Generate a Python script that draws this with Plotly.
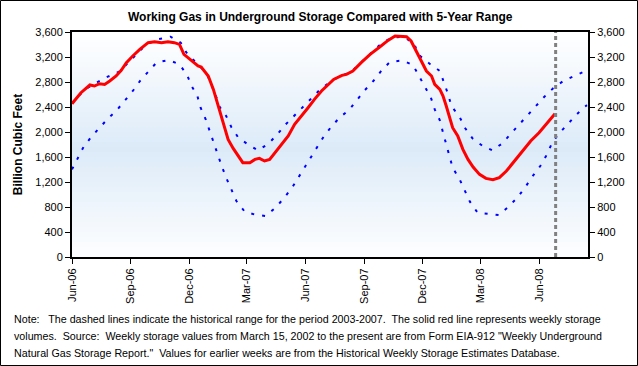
import plotly.graph_objects as go

# ---------------- data ----------------
title_text = "Working Gas in Underground Storage Compared with 5-Year Range"
y_title = "Billion Cubic Feet"
note_lines = [
    "Note:   The dashed lines indicate the historical range for the period 2003-2007.  The solid red line represents weekly storage",
    "volumes.  Source:  Weekly storage values from March 15, 2002 to the present are from Form EIA-912 \"Weekly Underground",
    "Natural Gas Storage Report.\"  Values for earlier weeks are from the Historical Weekly Storage Estimates Database.",
]

storage_dates = [
    "2006-06-01", "2006-06-15", "2006-06-29", "2006-07-06", "2006-07-14", "2006-07-22", "2006-07-30",
    "2006-08-09", "2006-08-17", "2006-08-25", "2006-09-04", "2006-09-15", "2006-09-28", "2006-10-08",
    "2006-10-19", "2006-10-29", "2006-11-08", "2006-11-16", "2006-11-23", "2006-12-04", "2006-12-10",
    "2006-12-15", "2006-12-20", "2006-12-31", "2007-01-08", "2007-01-15", "2007-01-23", "2007-01-31",
    "2007-02-08", "2007-02-16", "2007-02-23", "2007-03-06", "2007-03-14", "2007-03-21", "2007-03-29",
    "2007-04-06", "2007-04-14", "2007-04-24", "2007-05-05", "2007-05-15", "2007-05-26", "2007-06-05",
    "2007-06-15", "2007-06-26", "2007-07-15", "2007-07-28", "2007-08-04", "2007-08-14", "2007-08-27",
    "2007-09-10", "2007-09-25", "2007-10-08", "2007-10-19", "2007-11-06", "2007-11-13", "2007-11-21",
    "2007-11-29", "2007-12-07", "2007-12-15", "2007-12-20", "2007-12-28", "2008-01-02", "2008-01-07",
    "2008-01-12", "2008-01-17", "2008-01-25", "2008-02-02", "2008-02-10", "2008-02-18", "2008-02-28",
    "2008-03-09", "2008-03-20", "2008-03-30", "2008-04-10", "2008-04-23", "2008-05-05", "2008-05-18",
    "2008-05-31", "2008-06-13", "2008-06-25",
]
storage_values = [
    2453, 2629, 2752, 2736, 2773, 2762, 2816,
    2896, 2986, 3109, 3216, 3322, 3429, 3445,
    3429, 3445, 3429, 3402, 3242, 3146, 3093,
    3056, 3040, 2896, 2682, 2442, 2149, 1882,
    1738, 1616, 1509, 1509, 1562, 1578, 1536,
    1562, 1669, 1792, 1936, 2122, 2256, 2389,
    2522, 2656, 2842, 2906, 2922, 2976, 3109,
    3242, 3360, 3466, 3536, 3525, 3456, 3296,
    3162, 2976, 2896, 2762, 2682, 2576, 2416,
    2256, 2069, 1936, 1722, 1562, 1440, 1322,
    1258, 1237, 1269, 1376, 1536, 1696, 1856,
    1989, 2149, 2293,
]

max_dates = [
    "2006-06-01", "2006-06-21", "2006-07-09", "2006-07-27", "2006-08-14", "2006-08-30", "2006-09-12",
    "2006-09-25", "2006-10-13", "2006-11-02", "2006-11-18", "2006-11-27", "2006-12-12", "2006-12-28",
    "2007-01-11", "2007-01-18", "2007-01-28", "2007-02-05", "2007-02-16", "2007-03-03", "2007-03-19",
    "2007-04-04", "2007-04-18", "2007-04-30", "2007-05-14", "2007-05-28", "2007-06-10", "2007-06-24",
    "2007-07-15", "2007-07-28", "2007-08-14", "2007-08-30", "2007-09-12", "2007-09-26", "2007-10-13",
    "2007-11-01", "2007-11-18", "2007-11-24", "2007-12-12", "2007-12-28", "2008-01-10", "2008-01-15",
    "2008-01-28", "2008-02-05", "2008-02-17", "2008-03-04", "2008-03-19", "2008-04-03", "2008-04-16",
    "2008-04-29", "2008-05-13", "2008-05-25", "2008-06-08", "2008-06-22", "2008-07-08", "2008-07-25",
    "2008-08-12",
]
max_values = [
    2460, 2682, 2789, 2885, 2965, 3136, 3269,
    3402, 3482, 3525, 3429, 3269, 3109, 2949,
    2602, 2400, 2256, 2080, 1909, 1802, 1706,
    1813, 1962, 2112, 2256, 2400, 2549, 2682,
    2842, 2896, 2986, 3136, 3269, 3402, 3509,
    3525, 3413, 3242, 3093, 2976, 2602, 2416,
    2240, 2069, 1898, 1776, 1706, 1813, 1962,
    2112, 2272, 2416, 2560, 2698, 2816, 2896,
    2976,
]

min_dates = [
    "2006-06-01", "2006-06-10", "2006-06-19", "2006-07-01", "2006-07-14", "2006-07-27", "2006-08-09",
    "2006-08-22", "2006-09-04", "2006-09-16", "2006-09-29", "2006-10-11", "2006-10-30", "2006-11-16",
    "2006-11-28", "2006-12-05", "2006-12-14", "2006-12-19", "2006-12-27", "2007-01-02", "2007-01-08",
    "2007-01-14", "2007-01-21", "2007-01-28", "2007-02-05", "2007-02-13", "2007-02-26", "2007-03-13",
    "2007-03-30", "2007-04-14", "2007-04-28", "2007-05-11", "2007-05-31", "2007-06-10", "2007-06-20",
    "2007-06-30", "2007-07-11", "2007-07-24", "2007-08-08", "2007-08-20", "2007-09-02", "2007-09-15",
    "2007-09-28", "2007-10-11", "2007-10-30", "2007-11-16", "2007-11-25", "2007-12-04", "2007-12-14",
    "2007-12-20", "2007-12-28", "2008-01-02", "2008-01-07", "2008-01-12", "2008-01-17", "2008-01-28",
    "2008-02-05", "2008-02-13", "2008-02-25", "2008-03-12", "2008-03-29", "2008-04-13", "2008-04-27",
    "2008-05-09", "2008-05-20", "2008-06-02", "2008-06-11", "2008-06-19", "2008-06-28", "2008-07-12",
    "2008-07-25", "2008-08-07", "2008-08-14",
]
min_values = [
    1402, 1589, 1760, 1920, 2069, 2213, 2336,
    2496, 2656, 2826, 2976, 3109, 3152, 3082,
    2912, 2736, 2576, 2389, 2202, 2016, 1829,
    1642, 1456, 1269, 1072, 896, 725, 682,
    656, 778, 938, 1109, 1440, 1600, 1776,
    1936, 2080, 2229, 2352, 2506, 2672, 2816,
    2986, 3120, 3146, 3072, 2896, 2720, 2549,
    2362, 2186, 1989, 1792, 1616, 1429, 1242,
    1056, 885, 709, 693, 672, 800, 949,
    1109, 1280, 1456, 1616, 1792, 1936, 2096,
    2240, 2378, 2430,
]

latest_week = "2008-06-26"
x_range = ["2006-06-01", "2008-08-15 14:00"]
y_range = [0, 3600]
y_tick_step = 400
x_tick_start = "2006-06-01"

# ---------------- layout constants ----------------
W, H = 638, 366
ML, MR, MT, MB = 72, 50, 32, 109
PW, PH = W - ML - MR, H - MT - MB
FONT = "Liberation Sans, Arial, sans-serif"

fig = go.Figure()

blue_line = dict(color="#0000FF", width=2, dash="3px,8px")
fig.add_trace(go.Scatter(x=max_dates, y=max_values, mode="lines", line=blue_line,
                         hoverinfo="skip", showlegend=False))
fig.add_trace(go.Scatter(x=min_dates, y=min_values, mode="lines", line=blue_line,
                         hoverinfo="skip", showlegend=False))
fig.add_trace(go.Scatter(x=storage_dates, y=storage_values, mode="lines",
                         line=dict(color="#FF0000", width=3),
                         hoverinfo="skip", showlegend=False))
# invisible trace to carry right-hand axis
fig.add_trace(go.Scatter(x=storage_dates, y=storage_values, mode="lines", yaxis="y2",
                         line=dict(width=0, color="rgba(0,0,0,0)"),
                         hoverinfo="skip", showlegend=False))

# gradient background for plot area
shapes = []
N = 45
peak = (220, 234, 248)
for i in range(N):
    t = (i + 0.5) / N  # 0 top -> 1 bottom
    k = max(0.0, 1 - abs(t - 0.52) / 0.52)
    k = k ** 1.1
    col = tuple(int(round(255 - (255 - p) * k)) for p in peak)
    shapes.append(dict(type="rect", xref="x domain", yref="y domain",
                       x0=0, x1=1, y0=1 - (i + 1) / N, y1=1 - i / N,
                       fillcolor="rgb(%d,%d,%d)" % col, line=dict(width=0), layer="below"))

# vertical dashed marker for latest week
shapes.append(dict(type="line", xref="x", yref="y domain", x0=latest_week, x1=latest_week,
                   y0=0, y1=1, line=dict(color="#808080", width=3, dash="4px,3px")))
# outer border of the whole image
shapes.append(dict(type="rect", xref="paper", yref="paper",
                   x0=(-ML + 0.5) / PW, x1=1 + (MR - 0.5) / PW,
                   y0=(-MB + 0.5) / PH, y1=1 + (MT - 0.5) / PH,
                   line=dict(color="black", width=1), fillcolor="rgba(0,0,0,0)", layer="above"))

annotations = [dict(text="<b>%s</b>" % title_text, xref="paper", yref="paper",
                    x=(320 - ML) / PW, y=1 + (MT - 17) / PH, xanchor="center", yanchor="middle",
                    showarrow=False, font=dict(family=FONT, size=12, color="black"))]
note_y = [319, 336, 353]
for line, py in zip(note_lines, note_y):
    annotations.append(dict(text=line, xref="paper", yref="paper",
                            x=(12 - ML) / PW, y=(H - MB - py) / PH, xanchor="left", yanchor="middle",
                            showarrow=False, font=dict(family=FONT, size=10.7, color="black")))

axis_common = dict(showgrid=False, zeroline=False, showline=True, linecolor="black", linewidth=2,
                   ticks="outside", ticklen=5, tickwidth=1, tickcolor="black",
                   tickfont=dict(family=FONT, size=11, color="black"))

fig.update_layout(
    width=W, height=H,
    margin=dict(l=ML, r=MR, t=MT, b=MB, autoexpand=False),
    paper_bgcolor="white", plot_bgcolor="white",
    showlegend=False,
    hovermode=False,
    shapes=shapes,
    annotations=annotations,
    xaxis=dict(type="date", range=x_range, tick0=x_tick_start, dtick="M3", tickformat="%b-%y",
               tickangle=-90, mirror=True, automargin=False, **axis_common),
    yaxis=dict(range=y_range, dtick=y_tick_step, tickformat=",d", automargin=False,
               title=dict(text="<b>%s</b>" % y_title, font=dict(family=FONT, size=12, color="black"),
                          standoff=10),
               **axis_common),
    yaxis2=dict(range=y_range, dtick=y_tick_step, tickformat=",d", overlaying="y", side="right",
                automargin=False, **axis_common),
)

fig.write_html("out.html", config={"displayModeBar": False, "staticPlot": True},
               post_script="document.body.style.margin='0';document.body.style.padding='0';")
